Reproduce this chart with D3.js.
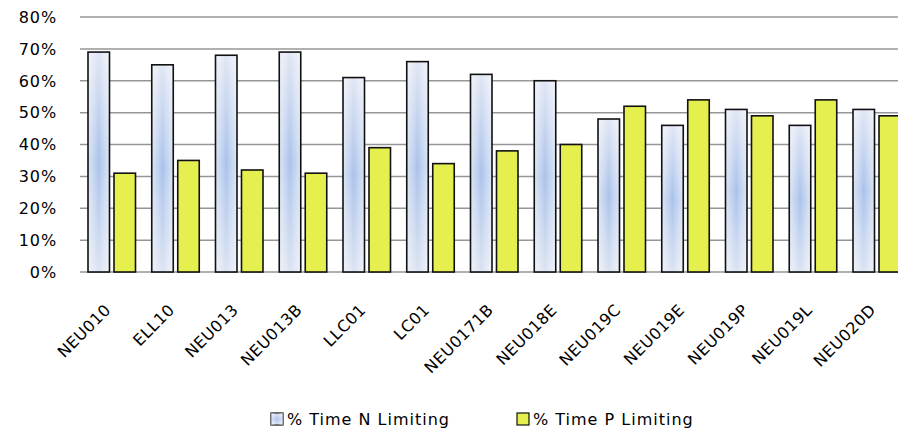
<!DOCTYPE html>
<html>
<head>
<meta charset="utf-8">
<script src="https://cdn.jsdelivr.net/npm/d3@7"></script>
<style>
  html, body { margin: 0; padding: 0; background: #fff; overflow: hidden; }
  svg { display: block; font-family: "DejaVu Sans", Verdana, sans-serif; }
</style>
</head>
<body>
<svg id="chart" width="898" height="430"></svg>
<script>
const categories = ["NEU010", "ELL10", "NEU013", "NEU013B", "LLC01", "LC01", "NEU0171B",
  "NEU018E", "NEU019C", "NEU019E", "NEU019P", "NEU019L", "NEU020D"];
const nLimiting = [0.69, 0.65, 0.68, 0.69, 0.61, 0.66, 0.62, 0.60, 0.48, 0.46, 0.51, 0.46, 0.51];
const pLimiting = [0.31, 0.35, 0.32, 0.31, 0.39, 0.34, 0.38, 0.40, 0.52, 0.54, 0.49, 0.54, 0.49];
const yTicks = [0, 0.1, 0.2, 0.3, 0.4, 0.5, 0.6, 0.7, 0.8];
const seriesNames = ["% Time N Limiting", "% Time P Limiting"];

const svg = d3.select("#chart");
const defs = svg.append("defs");

// N bar gradients
const gv = defs.append("linearGradient").attr("id", "nVert")
  .attr("x1", 0).attr("y1", 0).attr("x2", 0).attr("y2", 1);
gv.append("stop").attr("offset", "0%").attr("stop-color", "#e0e6f4");
gv.append("stop").attr("offset", "50%").attr("stop-color", "#aac2ea");
gv.append("stop").attr("offset", "100%").attr("stop-color", "#dbe3f2");
const gh = defs.append("linearGradient").attr("id", "nHoriz")
  .attr("x1", 0).attr("y1", 0).attr("x2", 1).attr("y2", 0);
[[0, 0.55], [0.3, 0.25], [0.5, 0], [0.7, 0.25], [1, 0.55]].forEach(([o, a]) =>
  gh.append("stop").attr("offset", o * 100 + "%").attr("stop-color", "#ffffff").attr("stop-opacity", a));

const yellow = "#e5ef4e";

const margin = { left: 80, top: 17, bottom: 272 };
const step = 63.75;
const x0 = d3.scaleBand().domain(categories)
  .range([margin.left, margin.left + step * categories.length]).padding(0);
const x1 = d3.scaleBand().domain(["N", "P"]).range([8, 55.5]).paddingInner(0.173);
const y = d3.scaleLinear().domain([0, 0.8]).range([margin.bottom, margin.top]);

// gridlines
svg.append("g").selectAll("line").data(yTicks).join("line")
  .attr("x1", margin.left).attr("x2", 898)
  .attr("y1", d => y(d)).attr("y2", d => y(d))
  .attr("stroke", "#969696").attr("stroke-width", 1.5);

// y labels
svg.append("g").selectAll("text").data(yTicks).join("text")
  .attr("x", 57).attr("y", d => y(d)).attr("dy", "0.36em")
  .attr("text-anchor", "end").attr("font-size", 16).attr("letter-spacing", 0.9)
  .attr("fill", "#000")
  .text(d => d3.format(".0%")(d));

const rows = categories.map((c, i) => ({ c, n: nLimiting[i], p: pLimiting[i] }));

const groups = svg.append("g").selectAll("g").data(rows).join("g")
  .attr("transform", d => `translate(${x0(d.c)},0)`);

// N bars
groups.append("rect")
  .attr("x", x1("N")).attr("width", x1.bandwidth())
  .attr("y", d => y(d.n)).attr("height", d => y(0) - y(d.n))
  .attr("fill", "url(#nVert)");
groups.append("rect")
  .attr("x", x1("N")).attr("width", x1.bandwidth())
  .attr("y", d => y(d.n)).attr("height", d => y(0) - y(d.n))
  .attr("fill", "url(#nHoriz)")
  .attr("stroke", "#111").attr("stroke-width", 1.6);

// P bars
groups.append("rect")
  .attr("x", x1("P")).attr("width", x1.bandwidth())
  .attr("y", d => y(d.p)).attr("height", d => y(0) - y(d.p))
  .attr("fill", yellow)
  .attr("stroke", "#111").attr("stroke-width", 1.6);

// category labels
svg.append("g").selectAll("text").data(categories).join("text")
  .attr("transform", d => `translate(${x0(d) + x0.bandwidth() / 2},311) rotate(-45)`)
  .attr("text-anchor", "end").attr("font-size", 16).attr("letter-spacing", 0.5)
  .attr("fill", "#000")
  .text(d => d);

// legend
const legendX = [271, 517];
const lg = svg.append("g").selectAll("g").data(seriesNames).join("g")
  .attr("transform", (d, i) => `translate(${legendX[i]},413)`);
lg.append("rect").attr("width", 12).attr("height", 12)
  .attr("fill", (d, i) => i === 0 ? "url(#nVert)" : yellow)
  .attr("stroke", "#111").attr("stroke-width", 1.2);
lg.filter((d, i) => i === 0).append("rect").attr("width", 12).attr("height", 12)
  .attr("fill", "url(#nHoriz)");
lg.append("text").attr("x", 16).attr("y", 11.5)
  .attr("font-size", 16).attr("letter-spacing", 1).attr("fill", "#000")
  .text(d => d);
</script>
</body>
</html>
